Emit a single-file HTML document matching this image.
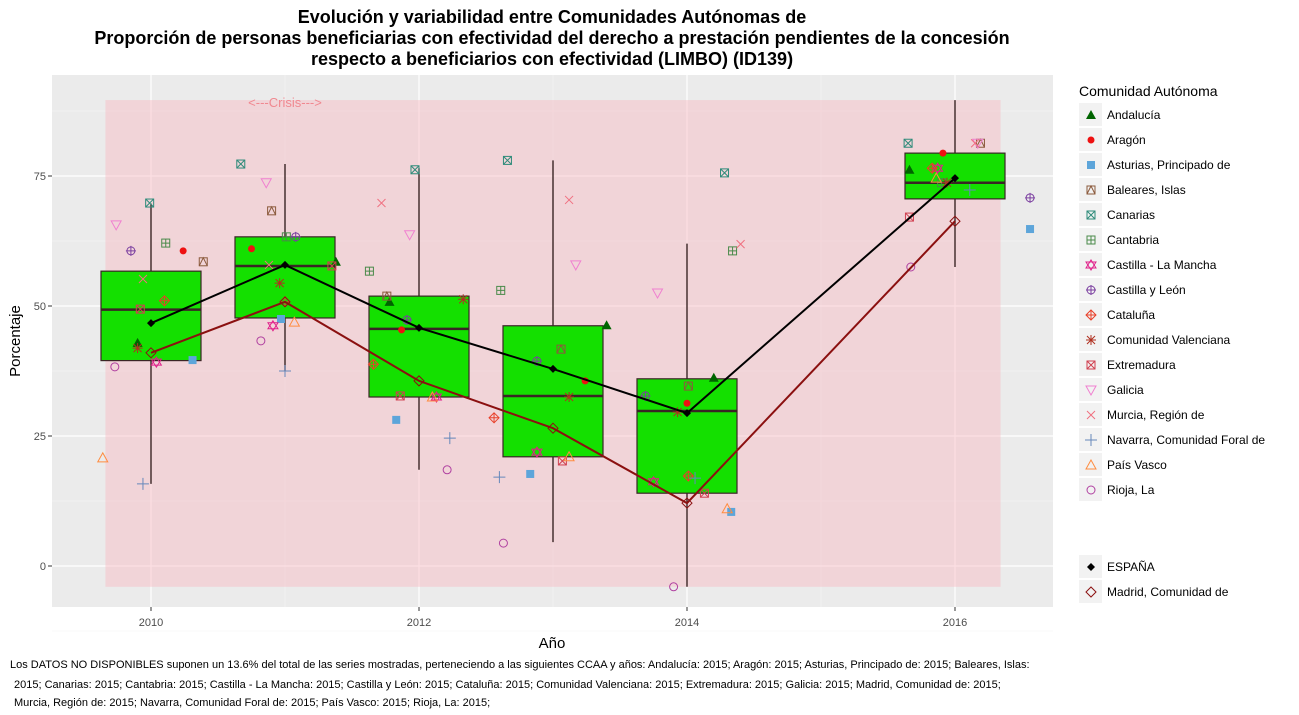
<!DOCTYPE html>
<html><head><meta charset="utf-8"><style>
body{margin:0;background:#fff;font-family:"Liberation Sans",Arial,sans-serif}
svg text{font-family:"Liberation Sans",Arial,sans-serif}
</style></head><body>
<svg id="c" width="1299" height="710" xmlns="http://www.w3.org/2000/svg">
<text x="552" y="23" text-anchor="middle" font-size="18" font-weight="bold">Evolución y variabilidad entre Comunidades Autónomas de</text>
<text x="552" y="44" text-anchor="middle" font-size="18" font-weight="bold">Proporción de personas beneficiarias con efectividad del derecho a prestación pendientes de la concesión</text>
<text x="552" y="65" text-anchor="middle" font-size="18" font-weight="bold">respecto a beneficiarios con efectividad (LIMBO) (ID139)</text>
<rect x="52" y="75" width="1001" height="532" fill="#EBEBEB"/>
<g id="grid"></g>
<rect id="crisis" fill="#F8B8C0" fill-opacity="0.45"/>
<text x="285" y="107" text-anchor="middle" font-size="13" fill="#F08890">&lt;---Crisis---&gt;</text>
<g id="boxes"></g><g id="pts"></g><g id="lines"></g><g id="axes"></g><g id="legend"></g>
<text x="552" y="648" text-anchor="middle" font-size="15">Año</text>
<text transform="translate(20,341) rotate(-90)" text-anchor="middle" font-size="15">Porcentaje</text>
<g font-size="11">
<text x="10" y="668">Los DATOS NO DISPONIBLES suponen un 13.6% del total de las series mostradas, perteneciendo a las siguientes CCAA y años: Andalucía: 2015; Aragón: 2015; Asturias, Principado de: 2015; Baleares, Islas:</text>
<text x="14" y="688">2015; Canarias: 2015; Cantabria: 2015; Castilla - La Mancha: 2015; Castilla y León: 2015; Cataluña: 2015; Comunidad Valenciana: 2015; Extremadura: 2015; Galicia: 2015; Madrid, Comunidad de: 2015;</text>
<text x="14" y="706">Murcia, Región de: 2015; Navarra, Comunidad Foral de: 2015; País Vasco: 2015; Rioja, La: 2015;</text>
</g>
</svg>
<script>
const years=[2010,2011,2012,2013,2014,2016];
const q1=[39.5,47.7,32.5,21,14,70.6];
const med=[49.3,57.7,45.6,32.7,29.8,73.7];
const q3=[56.7,63.3,51.9,46.2,36,79.4];
const wlo=[15.8,37.6,18.5,4.6,-4,57.5];
const whi=[69.7,77.3,76.5,78,62,89.6];
const espana=[46.7,57.9,45.8,37.9,29.4,74.6];
const madrid=[41,50.8,35.6,26.5,12.1,66.3];
const regions=["Andalucía","Aragón","Asturias, Principado de","Baleares, Islas","Canarias","Cantabria","Castilla - La Mancha","Castilla y León","Cataluña","Comunidad Valenciana","Extremadura","Galicia","Murcia, Región de","Navarra, Comunidad Foral de","País Vasco","Rioja, La"];
const vals=[
[42.9,58.5,50.8,46.3,36.2,76.2],
[60.6,61,45.4,35.6,31.3,79.4],
[39.6,47.5,28.1,17.7,10.4,64.8],
[58.5,68.3,51.9,41.7,34.6,81.3],
[69.8,77.3,76.2,78,75.6,81.3],
[62.1,63.3,56.7,53,60.6,73.7],
[39.2,46.2,32.5,21.9,16.2,76.5],
[60.6,63.3,47.3,39.4,32.7,70.8],
[51,50.8,38.8,28.5,17.3,76.5],
[41.9,54.4,51.3,32.5,29.6,73.7],
[49.4,57.7,32.7,20.2,14,67.1],
[65.6,73.7,63.7,57.9,52.5,81.3],
[55.2,57.9,69.8,70.4,61.9,81.3],
[15.8,37.5,24.6,17.1,16.9,72.3],
[20.8,46.9,32.5,21,11,74.6],
[38.3,43.3,18.5,4.4,-4,57.5]];
const jit=[
[-0.1,0.38,-0.22,0.4,0.2,-0.34],
[0.24,-0.25,-0.13,0.24,0,-0.09],
[0.31,-0.03,-0.17,-0.17,0.33,0.56],
[0.39,-0.1,-0.24,0.06,0.01,0.19],
[-0.01,-0.33,-0.03,-0.34,0.28,-0.35],
[0.11,0.01,-0.37,-0.39,0.34,-0.1],
[0.04,-0.09,0.13,-0.12,-0.25,-0.13],
[-0.15,0.08,-0.09,-0.12,-0.31,0.56],
[0.1,0,-0.34,-0.44,0.01,-0.17],
[-0.1,-0.04,0.33,0.12,-0.07,-0.06],
[-0.08,0.35,-0.14,0.07,0.13,-0.34],
[-0.26,-0.14,-0.07,0.17,-0.22,0.17],
[-0.06,-0.12,-0.28,0.12,0.4,0.15],
[-0.06,0,0.23,-0.4,0.06,0.11],
[-0.36,0.07,0.1,0.12,0.3,-0.14],
[-0.27,-0.18,0.21,-0.37,-0.1,-0.33]];
const shapes=["tri","dot","sq","boxtri","boxx","boxplus","star","circplus","diaplus","ast","boxx","tridown","x","plus","triup","circ"];
const colors=["#006400","#EE1111","#5DA5DA","#8B5A3C","#2E8B7A","#4A8A4A","#E0208A","#7B3FA0","#E8402A","#B03020","#D04050","#F080D0","#F07080","#6688BB","#FF8C40","#B040A0"];
const NS="http://www.w3.org/2000/svg";
const X=y=>151+(y-2010)*134;
const Y=v=>566-v*5.2;
function mk(tag,at,par){const e=document.createElementNS(NS,tag);for(const k in at)e.setAttribute(k,at[k]);par.appendChild(e);return e;}
const grid=document.getElementById('grid');
[-12.5,12.5,37.5,62.5,87.5].forEach(v=>{const l=mk('line',{x1:52,x2:1053,y1:Y(v),y2:Y(v),stroke:'#F5F5F5','stroke-width':0.6},grid);});
[2009,2011,2013,2015].forEach(v=>{if(X(v)>52){const l=mk('line',{x1:X(v),x2:X(v),y1:75,y2:607,stroke:'#F5F5F5','stroke-width':0.6},grid);}});
const yt=[0,25,50,75],xt=[2010,2012,2014,2016];
const ax=document.getElementById('axes');
yt.forEach(v=>{const l=mk('line',{x1:52,x2:1053,y1:Y(v),y2:Y(v),stroke:'#fff','stroke-width':1.2},grid);
const t=mk('text',{x:46,y:Y(v)+4,'text-anchor':'end','font-size':11,fill:'#4D4D4D'},ax);t.textContent=v;
mk('line',{x1:48,x2:52,y1:Y(v),y2:Y(v),stroke:'#333'},ax);});
xt.forEach(v=>{const l=mk('line',{x1:X(v),x2:X(v),y1:75,y2:607,stroke:'#fff','stroke-width':1.2},grid);
const t=mk('text',{x:X(v),y:626,'text-anchor':'middle','font-size':11,fill:'#4D4D4D'},ax);t.textContent=v;
mk('line',{x1:X(v),x2:X(v),y1:607,y2:611,stroke:'#333'},ax);});
const cr=document.getElementById('crisis');
cr.setAttribute('x',X(2009.66));cr.setAttribute('width',X(2016.34)-X(2009.66));cr.setAttribute('y',Y(89.6));cr.setAttribute('height',Y(-4)-Y(89.6));
const bx=document.getElementById('boxes');
years.forEach((yr,i)=>{const g=mk('g',{},bx);
const cx=X(yr),hw=50;
mk('line',{x1:cx,x2:cx,y1:Y(whi[i]),y2:Y(wlo[i]),stroke:'#3a2525','stroke-width':1.4},g);
mk('rect',{x:cx-hw,y:Y(q3[i]),width:2*hw,height:Y(q1[i])-Y(q3[i]),fill:'#14E000',stroke:'#3a2525','stroke-width':1.2},g);
mk('line',{x1:cx-hw,x2:cx+hw,y1:Y(med[i]),y2:Y(med[i]),stroke:'#3a2525','stroke-width':2.5},g);});
function marker(p,s,x,y,c){const A={fill:'none',stroke:c,'stroke-width':1};const r=4;
switch(s){
case 'tri':mk('polygon',{points:`${x},${y-5} ${x-5},${y+4} ${x+5},${y+4}`,fill:c},p);break;
case 'dot':mk('circle',{cx:x,cy:y,r:3.5,fill:c},p);break;
case 'sq':mk('rect',{x:x-4,y:y-4,width:8,height:8,fill:c},p);break;
case 'boxtri':mk('rect',{x:x-r,y:y-r,width:8,height:8,...A},p);mk('polyline',{points:`${x-r},${y+r} ${x},${y-r} ${x+r},${y+r}`,...A},p);break;
case 'boxx':mk('rect',{x:x-r,y:y-r,width:8,height:8,...A},p);mk('path',{d:`M${x-r},${y-r}L${x+r},${y+r}M${x+r},${y-r}L${x-r},${y+r}`,...A},p);break;
case 'boxplus':mk('rect',{x:x-r,y:y-r,width:8,height:8,...A},p);mk('path',{d:`M${x-r},${y}L${x+r},${y}M${x},${y-r}L${x},${y+r}`,...A},p);break;
case 'star':mk('polygon',{points:`${x},${y-5} ${x-5},${y+3} ${x+5},${y+3}`,...A},p);mk('polygon',{points:`${x},${y+5} ${x-5},${y-3} ${x+5},${y-3}`,...A},p);break;
case 'circplus':mk('circle',{cx:x,cy:y,r:r,...A},p);mk('path',{d:`M${x-5},${y}L${x+5},${y}M${x},${y-5}L${x},${y+5}`,...A},p);break;
case 'diaplus':mk('polygon',{points:`${x},${y-5} ${x+5},${y} ${x},${y+5} ${x-5},${y}`,...A},p);mk('path',{d:`M${x-5},${y}L${x+5},${y}M${x},${y-5}L${x},${y+5}`,...A},p);break;
case 'ast':mk('path',{d:`M${x-5},${y}L${x+5},${y}M${x},${y-5}L${x},${y+5}M${x-4},${y-4}L${x+4},${y+4}M${x+4},${y-4}L${x-4},${y+4}`,...A},p);break;
case 'tridown':mk('polygon',{points:`${x-5},${y-4} ${x+5},${y-4} ${x},${y+5}`,...A},p);break;
case 'x':mk('path',{d:`M${x-4},${y-4}L${x+4},${y+4}M${x+4},${y-4}L${x-4},${y+4}`,...A},p);break;
case 'plus':mk('path',{d:`M${x-6},${y}L${x+6},${y}M${x},${y-6}L${x},${y+6}`,...A},p);break;
case 'triup':mk('polygon',{points:`${x},${y-5} ${x-5},${y+4} ${x+5},${y+4}`,...A},p);break;
case 'circ':mk('circle',{cx:x,cy:y,r:r,...A},p);break;
case 'dia':mk('polygon',{points:`${x},${y-5} ${x+5},${y} ${x},${y+5} ${x-5},${y}`,...A},p);break;
case 'fdia':mk('polygon',{points:`${x},${y-4} ${x+4},${y} ${x},${y+4} ${x-4},${y}`,fill:c},p);break;}}
const pts=document.getElementById('pts');
regions.forEach((r,ri)=>{years.forEach((yr,i)=>{const g=mk('g',{},pts);


marker(g,shapes[ri],X(yr+jit[ri][i]),Y(vals[ri][i]),colors[ri]);});});
const ln=document.getElementById('lines');
function series(arr,col,name,shape){const g=mk('g',{},ln);
mk('polyline',{points:years.map((y,i)=>X(y)+','+Y(arr[i])).join(' '),fill:'none',stroke:col,'stroke-width':2},g);
years.forEach((y,i)=>marker(g,shape,X(y),Y(arr[i]),col));}
series(madrid,'#8B1010','line-madrid','dia');
series(espana,'#000','line-espana','fdia');
const lg=document.getElementById('legend');
const tt=mk('text',{x:1079,y:96,'font-size':14},lg);tt.textContent='Comunidad Autónoma';
function entry(label,y,shape,col){const g=mk('g',{},lg);
mk('rect',{x:1079,y:y-12,width:23,height:23,fill:'#F2F2F2'},g);marker(g,shape,1091,y,col);
const t=mk('text',{x:1107,y:y+4,'font-size':12},g);t.textContent=label;}
regions.forEach((r,i)=>entry(r,115+i*25,shapes[i],colors[i]));
entry('ESPAÑA',567,'fdia','#000');
entry('Madrid, Comunidad de',592,'dia','#8B1010');
</script>
</body></html>
